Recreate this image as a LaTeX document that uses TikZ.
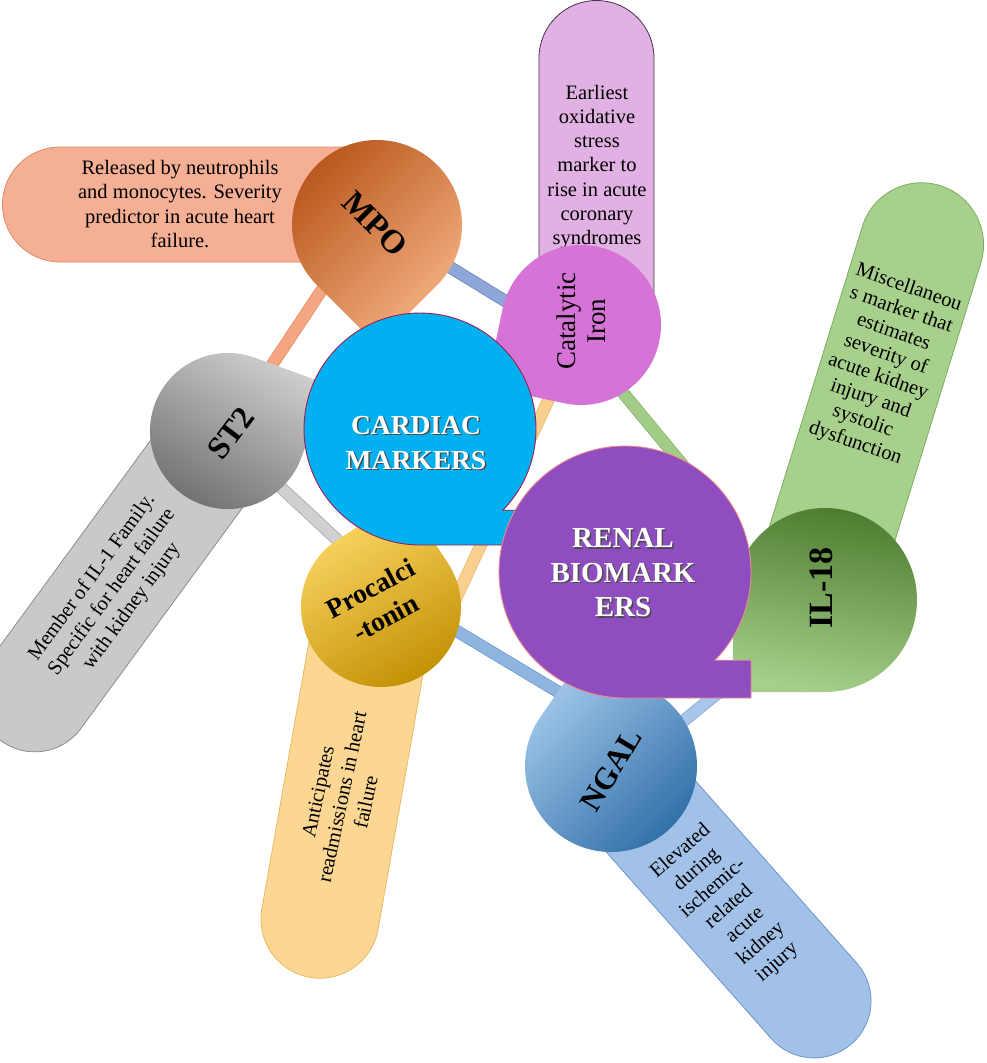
\documentclass[tikz,border=0pt]{standalone}
\usepackage{fontspec}
\setmainfont{Liberation Serif}
\usetikzlibrary{calc}

\definecolor{cardfill}{HTML}{00B0F0}
\definecolor{cardline}{HTML}{9E1F4F}
\definecolor{renfill}{HTML}{8E4EC0}
\definecolor{renline}{HTML}{F08A8A}
\definecolor{mpoA}{HTML}{B8561C}
\definecolor{mpoB}{HTML}{E67D36}
\definecolor{mpoD}{HTML}{F6B486}
\definecolor{stA}{HTML}{D2D2D2}
\definecolor{stB}{HTML}{6E6E6E}
\definecolor{prA}{HTML}{FFDA6A}
\definecolor{prB}{HTML}{FFC000}
\definecolor{prD}{HTML}{C08E00}
\definecolor{ilA}{HTML}{4E7D2F}
\definecolor{ilB}{HTML}{6FA845}
\definecolor{ilD}{HTML}{A6D08A}
\definecolor{ngA}{HTML}{A9CDEE}
\definecolor{ngD}{HTML}{2D6CA6}
\definecolor{catfill}{HTML}{D673D6}
\definecolor{mpopill}{HTML}{F4AF95}
\definecolor{mpopillL}{HTML}{DE8A68}
\definecolor{catpill}{HTML}{E2B1E3}
\definecolor{catpillL}{HTML}{4A3050}
\definecolor{ilpill}{HTML}{A8D08D}
\definecolor{ilpillL}{HTML}{7AAE5C}
\definecolor{stpill}{HTML}{C9C9C9}
\definecolor{stpillL}{HTML}{8C8C8C}
\definecolor{prpill}{HTML}{FCD793}
\definecolor{prpillL}{HTML}{E6BA62}
\definecolor{ngpill}{HTML}{A2C1E8}
\definecolor{ngpillL}{HTML}{6C95C8}
\definecolor{lkSalmon}{HTML}{F4A582}
\definecolor{lkSalmonL}{HTML}{E08A66}
\definecolor{lkPeri}{HTML}{8EA6D8}
\definecolor{lkPeriL}{HTML}{6A80B8}
\definecolor{lkGreen}{HTML}{A2CC88}
\definecolor{lkGreenL}{HTML}{7FAF62}
\definecolor{lkGray}{HTML}{D0D0D0}
\definecolor{lkGrayL}{HTML}{A0A0A0}
\definecolor{lkBlue}{HTML}{8EB4E0}
\definecolor{lkBlueL}{HTML}{6A95C8}
\definecolor{lkLBlue}{HTML}{A9C6EA}
\definecolor{lkLBlueL}{HTML}{7FA0D0}
\definecolor{lkPeach}{HTML}{F9CF8F}
\definecolor{lkPeachL}{HTML}{E8B868}

\newcommand{\tdrop}[4][]{%
  \path[#1] ($(#2)+({#4+45}:#3)$) arc[start angle={#4+45}, end angle={#4+315}, radius=#3]
    -- ($(#2)+(#4:{#3*1.4142})$) -- cycle;}

\begin{document}
\begin{tikzpicture}[x=1pt,y=1pt,
  link/.style 2 args={draw=#2, double=#1, double distance=11pt, line width=0.7pt},
  pilltext/.style={font=\fontsize{20.5}{24.5}\selectfont, align=center, text=black, inner sep=0pt},
  lbl/.style={font=\bfseries\fontsize{32}{34}\selectfont, align=center, inner sep=0pt, text=black},
  bigtext/.style={font=\bfseries\fontsize{28}{35}\selectfont, align=center, inner sep=0pt, text=white},
  shadowtext/.style={font=\bfseries\fontsize{28}{35}\selectfont, align=center, inner sep=0pt, text=black!70}]
\path[use as bounding box] (0,0) rectangle (986,-1063);
\clip (0,0) rectangle (986,-1063);
\fill[white] (0,0) rectangle (986,-1063);

% centres
\coordinate (mpoC) at (377,-225);
\coordinate (st2C) at (228,-431);
\coordinate (catC) at (581,-325);
\coordinate (procC) at (381,-607);
\coordinate (ilC) at (825,-600);
\coordinate (ngalC) at (611,-766);
\coordinate (cardC) at (420,-429);
\coordinate (renC) at (625,-572);

% link ends
\coordinate (s1a) at (345,-255); \coordinate (s1b) at (250,-398);
\coordinate (s2a) at (430,-255); \coordinate (s2b) at (520,-310);
\coordinate (s3a) at (600,-365); \coordinate (s3b) at (720,-510);
\coordinate (s4a) at (260,-468); \coordinate (s4b) at (360,-561);
\coordinate (s5a) at (430,-615); \coordinate (s5b) at (590,-711);
\coordinate (s6a) at (660,-740); \coordinate (s6b) at (740,-675);
\coordinate (s7a) at (560,-375); \coordinate (s7b) at (445,-622);

% links
\draw[link={lkSalmon}{lkSalmonL}] (s1a) -- (s1b);
\draw[link={lkPeri}{lkPeriL}] (s2a) -- (s2b);
\draw[link={lkGreen}{lkGreenL}] (s3a) -- (s3b);
\draw[link={lkGray}{lkGrayL}] (s4a) -- (s4b);
\draw[link={lkBlue}{lkBlueL}] (s5a) -- (s5b);
\draw[link={lkLBlue}{lkLBlueL}] (s6a) -- (s6b);
\draw[link={lkPeach}{lkPeachL}] (s7a) -- (s7b);

% pills
\begin{scope}[shift={(377,-204.5)}, rotate=180]
  \path[fill=mpopill, draw=mpopillL, line width=0.8pt] (0,-57.5) -- (317,-57.5) arc[start angle=-90,end angle=90,radius=57.5] -- (0,57.5) -- cycle;
\end{scope}
\begin{scope}[shift={(596.5,-325)}, rotate=90]
  \path[fill=catpill, draw=catpillL, line width=0.8pt] (0,-57.5) -- (267,-57.5) arc[start angle=-90,end angle=90,radius=57.5] -- (0,57.5) -- cycle;
\end{scope}
\begin{scope}[shift={(824,-560)}, rotate=72.8]
  \path[fill=ilpill, draw=ilpillL, line width=0.8pt] (0,-62) -- (330,-62) arc[start angle=-90,end angle=90,radius=62] -- (0,62) -- cycle;
\end{scope}
\begin{scope}[shift={(228,-431)}, rotate=233.8]
  \path[fill=stpill, draw=stpillL, line width=0.8pt] (0,-57) -- (327,-57) arc[start angle=-90,end angle=90,radius=57] -- (0,57) -- cycle;
\end{scope}
\begin{scope}[shift={(375,-607)}, rotate=260]
  \path[fill=prpill, draw=prpillL, line width=0.8pt] (0,-59) -- (317,-59) arc[start angle=-90,end angle=90,radius=59] -- (0,59) -- cycle;
\end{scope}
\begin{scope}[shift={(608,-768)}, rotate=-48.5]
  \path[fill=ngpill, draw=ngpillL, line width=0.8pt] (0,-57) -- (311,-57) arc[start angle=-90,end angle=90,radius=57] -- (0,57) -- cycle;
\end{scope}

% pill texts
\node[pilltext] (mpoTxt) at (180,-204) {Released by neutrophils\\and monocytes. Severity\\predictor in acute heart\\failure.};
\node[pilltext, font=\fontsize{20.5}{24.2}\selectfont] (catTxt) at (597,-167) {Earliest\\oxidative\\stress\\marker to\\rise in acute\\coronary\\syndromes};
\node[pilltext, font=\fontsize{20.5}{23.5}\selectfont, rotate=-19] (ilTxt) at (882,-366) {Miscellaneou\\s marker that\\estimates\\severity of\\acute kidney\\injury and\\systolic\\dysfunction};
\node[pilltext, rotate=54] (stTxt) at (112,-592) {Member of IL-1 Family.\\Specific for heart failure\\with kidney injury};
\node[pilltext, rotate=78] (prTxt) at (342,-797) {Anticipates\\readmissions in heart\\failure};
\node[pilltext, rotate=41] (ngTxt) at (729,-907) {Elevated\\during\\ischemic-\\related\\acute\\kidney\\injury};

% satellite teardrops
\tdrop[top color=mpoA, middle color=mpoB, bottom color=mpoD, shading angle=45]{mpoC}{85}{270}
\tdrop[top color=stA, bottom color=stB, shading angle=-30]{st2C}{78}{25}
\tdrop[fill=catfill]{catC}{80}{213}
\tdrop[top color=prA, middle color=prB, bottom color=prD, shading angle=30]{procC}{80}{78}
\tdrop[top color=ilA, middle color=ilB, bottom color=ilD, shading angle=-10]{ilC}{92}{225}
\tdrop[top color=ngA, bottom color=ngD, shading angle=45]{ngalC}{86}{100}

% satellite labels
\node[lbl, font=\bfseries\fontsize{33}{34}\selectfont, rotate=-45] (mpo) at (375,-224) {MPO};
\node[lbl, rotate=53] (st2) at (231,-433) {ST2};
\node[lbl, font=\fontsize{27}{30}\selectfont, rotate=90] (cat) at (581,-321) {Catalytic\\Iron};
\node[lbl, font=\bfseries\fontsize{34}{34}\selectfont, rotate=90] (il18) at (821,-588) {IL-18};
\node[lbl, font=\bfseries\fontsize{31}{34}\selectfont, rotate=59] (ngal) at (611,-770) {NGAL};
\node[lbl, font=\bfseries\fontsize{27.5}{33}\selectfont, rotate=28] (proc) at (378,-603) {Procalci\\-tonin};

% central bubbles
\path[fill=cardfill, draw=cardline, line width=0.9pt] ($(cardC)+(-44.43:116)$) arc[start angle=-44.43, end angle=270, radius=116] -- ++(116,0) -- ++(0,34.8) -- cycle;
\node[shadowtext, font=\bfseries\fontsize{27.5}{35}\selectfont] (cardSh) at (417.5,-444.5) {CARDIAC\\MARKERS};
\node[bigtext, font=\bfseries\fontsize{27.5}{35}\selectfont] (card) at (416,-443) {CARDIAC\\MARKERS};

\path[fill=renfill, draw=renline, line width=0.9pt] ($(renC)+(-44.43:126)$) arc[start angle=-44.43, end angle=270, radius=126] -- ++(126,0) -- ++(0,37.8) -- cycle;
\node[shadowtext, font=\bfseries\fontsize{29}{34.5}\selectfont] (renSh) at (624.5,-574.5) {RENAL\\BIOMARK\\ERS};
\node[bigtext, font=\bfseries\fontsize{29}{34.5}\selectfont] (ren) at (623,-573) {RENAL\\BIOMARK\\ERS};
\end{tikzpicture}
\end{document}
